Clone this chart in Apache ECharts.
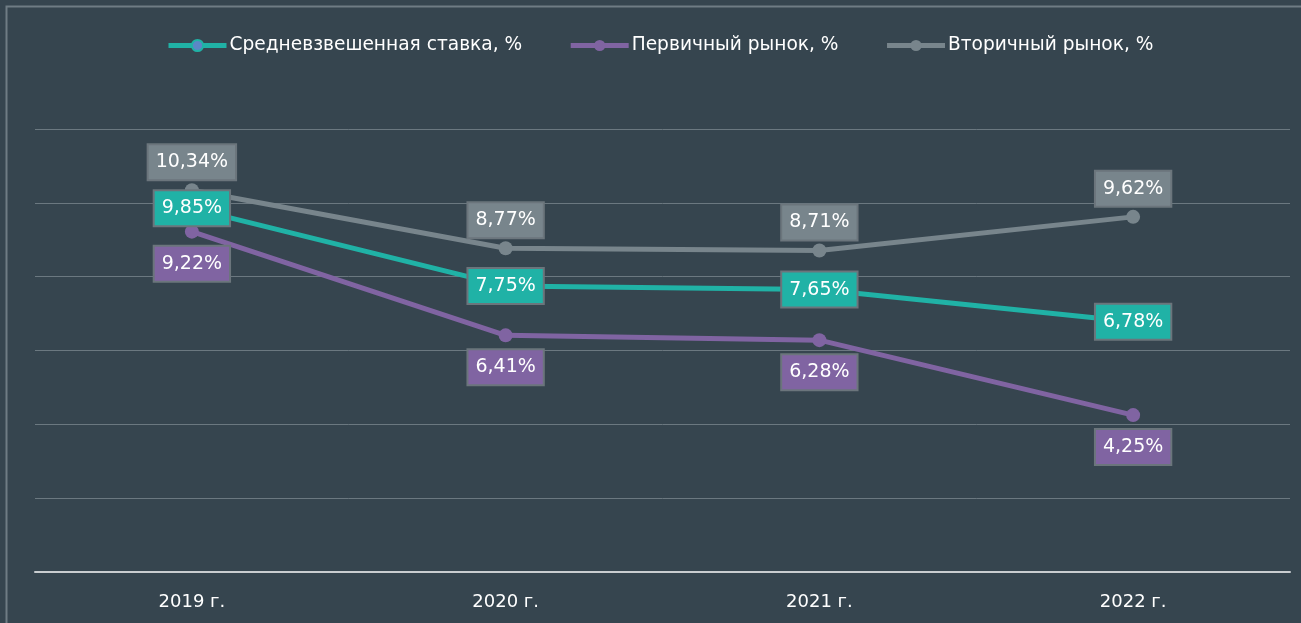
<!DOCTYPE html>
<html>
<head>
<meta charset="utf-8">
<script src="https://cdn.jsdelivr.net/npm/echarts@6/dist/echarts.min.js"></script>
<style>
  html, body { margin: 0; padding: 0; background: #36454f; }
  #chart { width: 1301px; height: 623px; }
</style>
</head>
<body>
<div id="chart"></div>
<script>
// данные графика
let years = ['2019 г.', '2020 г.', '2021 г.', '2022 г.'];
let avgRate = [9.85, 7.75, 7.65, 6.78];
let primaryRate = [9.22, 6.41, 6.28, 4.25];
let secondaryRate = [10.34, 8.77, 8.71, 9.62];
let seriesNames = ['Средневзвешенная ставка, %', 'Первичный рынок, %', 'Вторичный рынок, %'];

let textColor = '#ffffff';
let labelFormat = function (p) {
    return p.value.toFixed(2).replace('.', ',') + '%';
};

let makeSeries = function (name, data, color, pos, dist) {
    return {
        name: name,
        type: 'line',
        data: data,
        symbol: 'circle',
        symbolSize: 14,
        lineStyle: { width: 5, color: color },
        itemStyle: { color: color },
        label: {
            show: true,
            position: pos,
            distance: dist,
            formatter: labelFormat,
            color: textColor,
            fontSize: 19,
            lineHeight: 22,
            fontFamily: 'DejaVu Sans',
            backgroundColor: color,
            borderColor: '#6b757c',
            borderWidth: 2,
            padding: [6, 7, 6, 7]
        }
    };
};

let chart = echarts.init(document.getElementById('chart'));
chart.setOption({
    backgroundColor: '#36454f',
    animation: false,
    graphic: [{
        type: 'rect',
        left: 4, top: 4,
        shape: { width: 1400, height: 700 },
        style: { fill: 'none', stroke: '#6f7c84', lineWidth: 2 },
        silent: true
    }],
    legend: {
        top: 31,
        left: 161,
        itemWidth: 58,
        itemHeight: 14,
        itemGap: 46,
        lineStyle: { width: 5 },
        textStyle: { color: textColor, fontSize: 18.6, fontFamily: 'DejaVu Sans', padding: [0, 0, 0, -2] },
        data: [
            { name: seriesNames[0], itemStyle: { color: '#5b87c6', borderColor: '#20b2a6', borderWidth: 2 } },
            seriesNames[1],
            seriesNames[2]
        ]
    },
    grid: { left: 35, right: 11, top: 129, bottom: 51 },
    xAxis: {
        type: 'category',
        data: years,
        boundaryGap: true,
        axisLine: { lineStyle: { color: '#c9cdd0', width: 2 } },
        axisTick: { show: false },
        axisLabel: { color: textColor, fontSize: 18, fontFamily: 'DejaVu Sans', margin: 21 }
    },
    yAxis: {
        type: 'value',
        min: 0, max: 12, interval: 2,
        axisLabel: { show: false },
        axisLine: { show: false },
        axisTick: { show: false },
        splitLine: { lineStyle: { color: '#6b7880', width: 1 } }
    },
    series: [
        makeSeries(seriesNames[1], primaryRate, '#8064a2', 'bottom', 8),
        makeSeries(seriesNames[2], secondaryRate, '#78858c', 'top', 4),
        makeSeries(seriesNames[0], avgRate, '#20b2a6', 'inside', 0)
    ]
});
</script>
</body>
</html>
